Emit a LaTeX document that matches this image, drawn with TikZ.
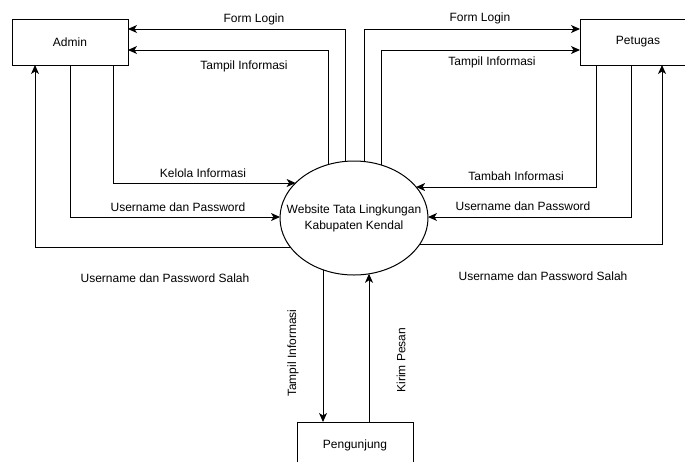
\documentclass[tikz,border=0pt]{standalone}
\usepackage{fontspec}
\setmainfont{Liberation Sans}
\usetikzlibrary{shapes.geometric,arrows.meta,calc}
\tikzset{
  entity/.style={draw, line width=1pt, minimum width=116pt, minimum height=46pt, inner sep=0pt, outer sep=0pt},
  proc/.style={draw, ellipse, line width=1pt, minimum width=148pt, minimum height=114pt, inner sep=0pt, outer sep=0pt},
  flow/.style={draw, line width=1pt, -{Stealth[length=9pt,width=8pt,inset=2.5pt]}},
  lbl/.style={inner sep=0pt, font=\fontsize{12}{14}\selectfont}
}
\begin{document}
\begin{tikzpicture}[x=1pt,y=-1pt]
\useasboundingbox (0,0) rectangle (685,461);
\clip (0,0) rectangle (685,461);
\fill[white] (0,0) rectangle (685,461);
% nodes
\node[entity] (admin) at (70,42) {};
\node[lbl] at (admin.center) {Admin};
\node[entity] (pet) at (638,42) {};
\node[lbl] at (pet.center) {Petugas};
\node[entity] (peng) at (355,445) {};
\node[lbl] at (peng.center) {Pengunjung};
\node[proc] (e) at (354,218) {};
\node[lbl, align=center, font=\fontsize{12}{16}\selectfont] at (e.center) {Website Tata Lingkungan\\Kabupaten Kendal};
% points on the ellipse boundary
\coordinate (p1) at ($(e.center)+(-9,-56.6)$);
\coordinate (p2) at ($(e.center)+(-26,-53.4)$);
\coordinate (p3) at ($(e.center)+(10,-56.5)$);
\coordinate (p4) at ($(e.center)+(27,-53.1)$);
\coordinate (p5) at ($(e.center)+(-31,51.8)$);
\coordinate (p6) at ($(e.center)+(15,55.8)$);
\coordinate (p7) at ($(e.center)+(-58.4,-35)$);
\coordinate (p8) at ($(e.center)+(-74,-1)$);
\coordinate (p9) at ($(e.center)+(-63.7,29)$);
\coordinate (p10) at ($(e.center)+(62.1,-31)$);
\coordinate (p11) at ($(e.center)+(74,-1)$);
\coordinate (p12) at ($(e.center)+(65.9,26)$);
% connectors
\draw[flow] (p1) |- ([yshift=13pt]admin.east);
\draw[flow] (p2) |- ([yshift=-8pt]admin.east);
\draw[flow] (p3) |- ([yshift=13pt]pet.west);
\draw[flow] (p4) |- ([yshift=-8pt]pet.west);
\draw[flow] ([xshift=43pt]admin.south) |- (p7);
\draw[flow] (admin.south) |- (p8);
\draw[flow] (p9) -| ([xshift=-35pt]admin.south);
\draw[flow] ([xshift=-42pt]pet.south) |- (p10);
\draw[flow] ([xshift=-7pt]pet.south) |- (p11);
\draw[flow] (p12) -| ([xshift=24pt]pet.south);
\draw[flow] (p5) -- (p5 |- peng.north);
\draw[flow] (p6 |- peng.north) -- (p6);
% labels
\node[lbl] at (254,19) {Form Login};
\node[lbl] at (244,66) {Tampil Informasi};
\node[lbl] at (480,18) {Form Login};
\node[lbl] at (492,62) {Tampil Informasi};
\node[lbl] at (203,173) {Kelola Informasi};
\node[lbl] at (178,207) {Username dan Password};
\node[lbl] at (516,176) {Tambah Informasi};
\node[lbl] at (523,206) {Username dan Password};
\node[lbl] at (165,278) {Username dan Password Salah};
\node[lbl] at (543,276) {Username dan Password Salah};
\node[lbl, rotate=90] at (293,353) {Tampil Informasi};
\node[lbl, rotate=90] at (401,360) {Kirim Pesan};
\end{tikzpicture}
\end{document}
